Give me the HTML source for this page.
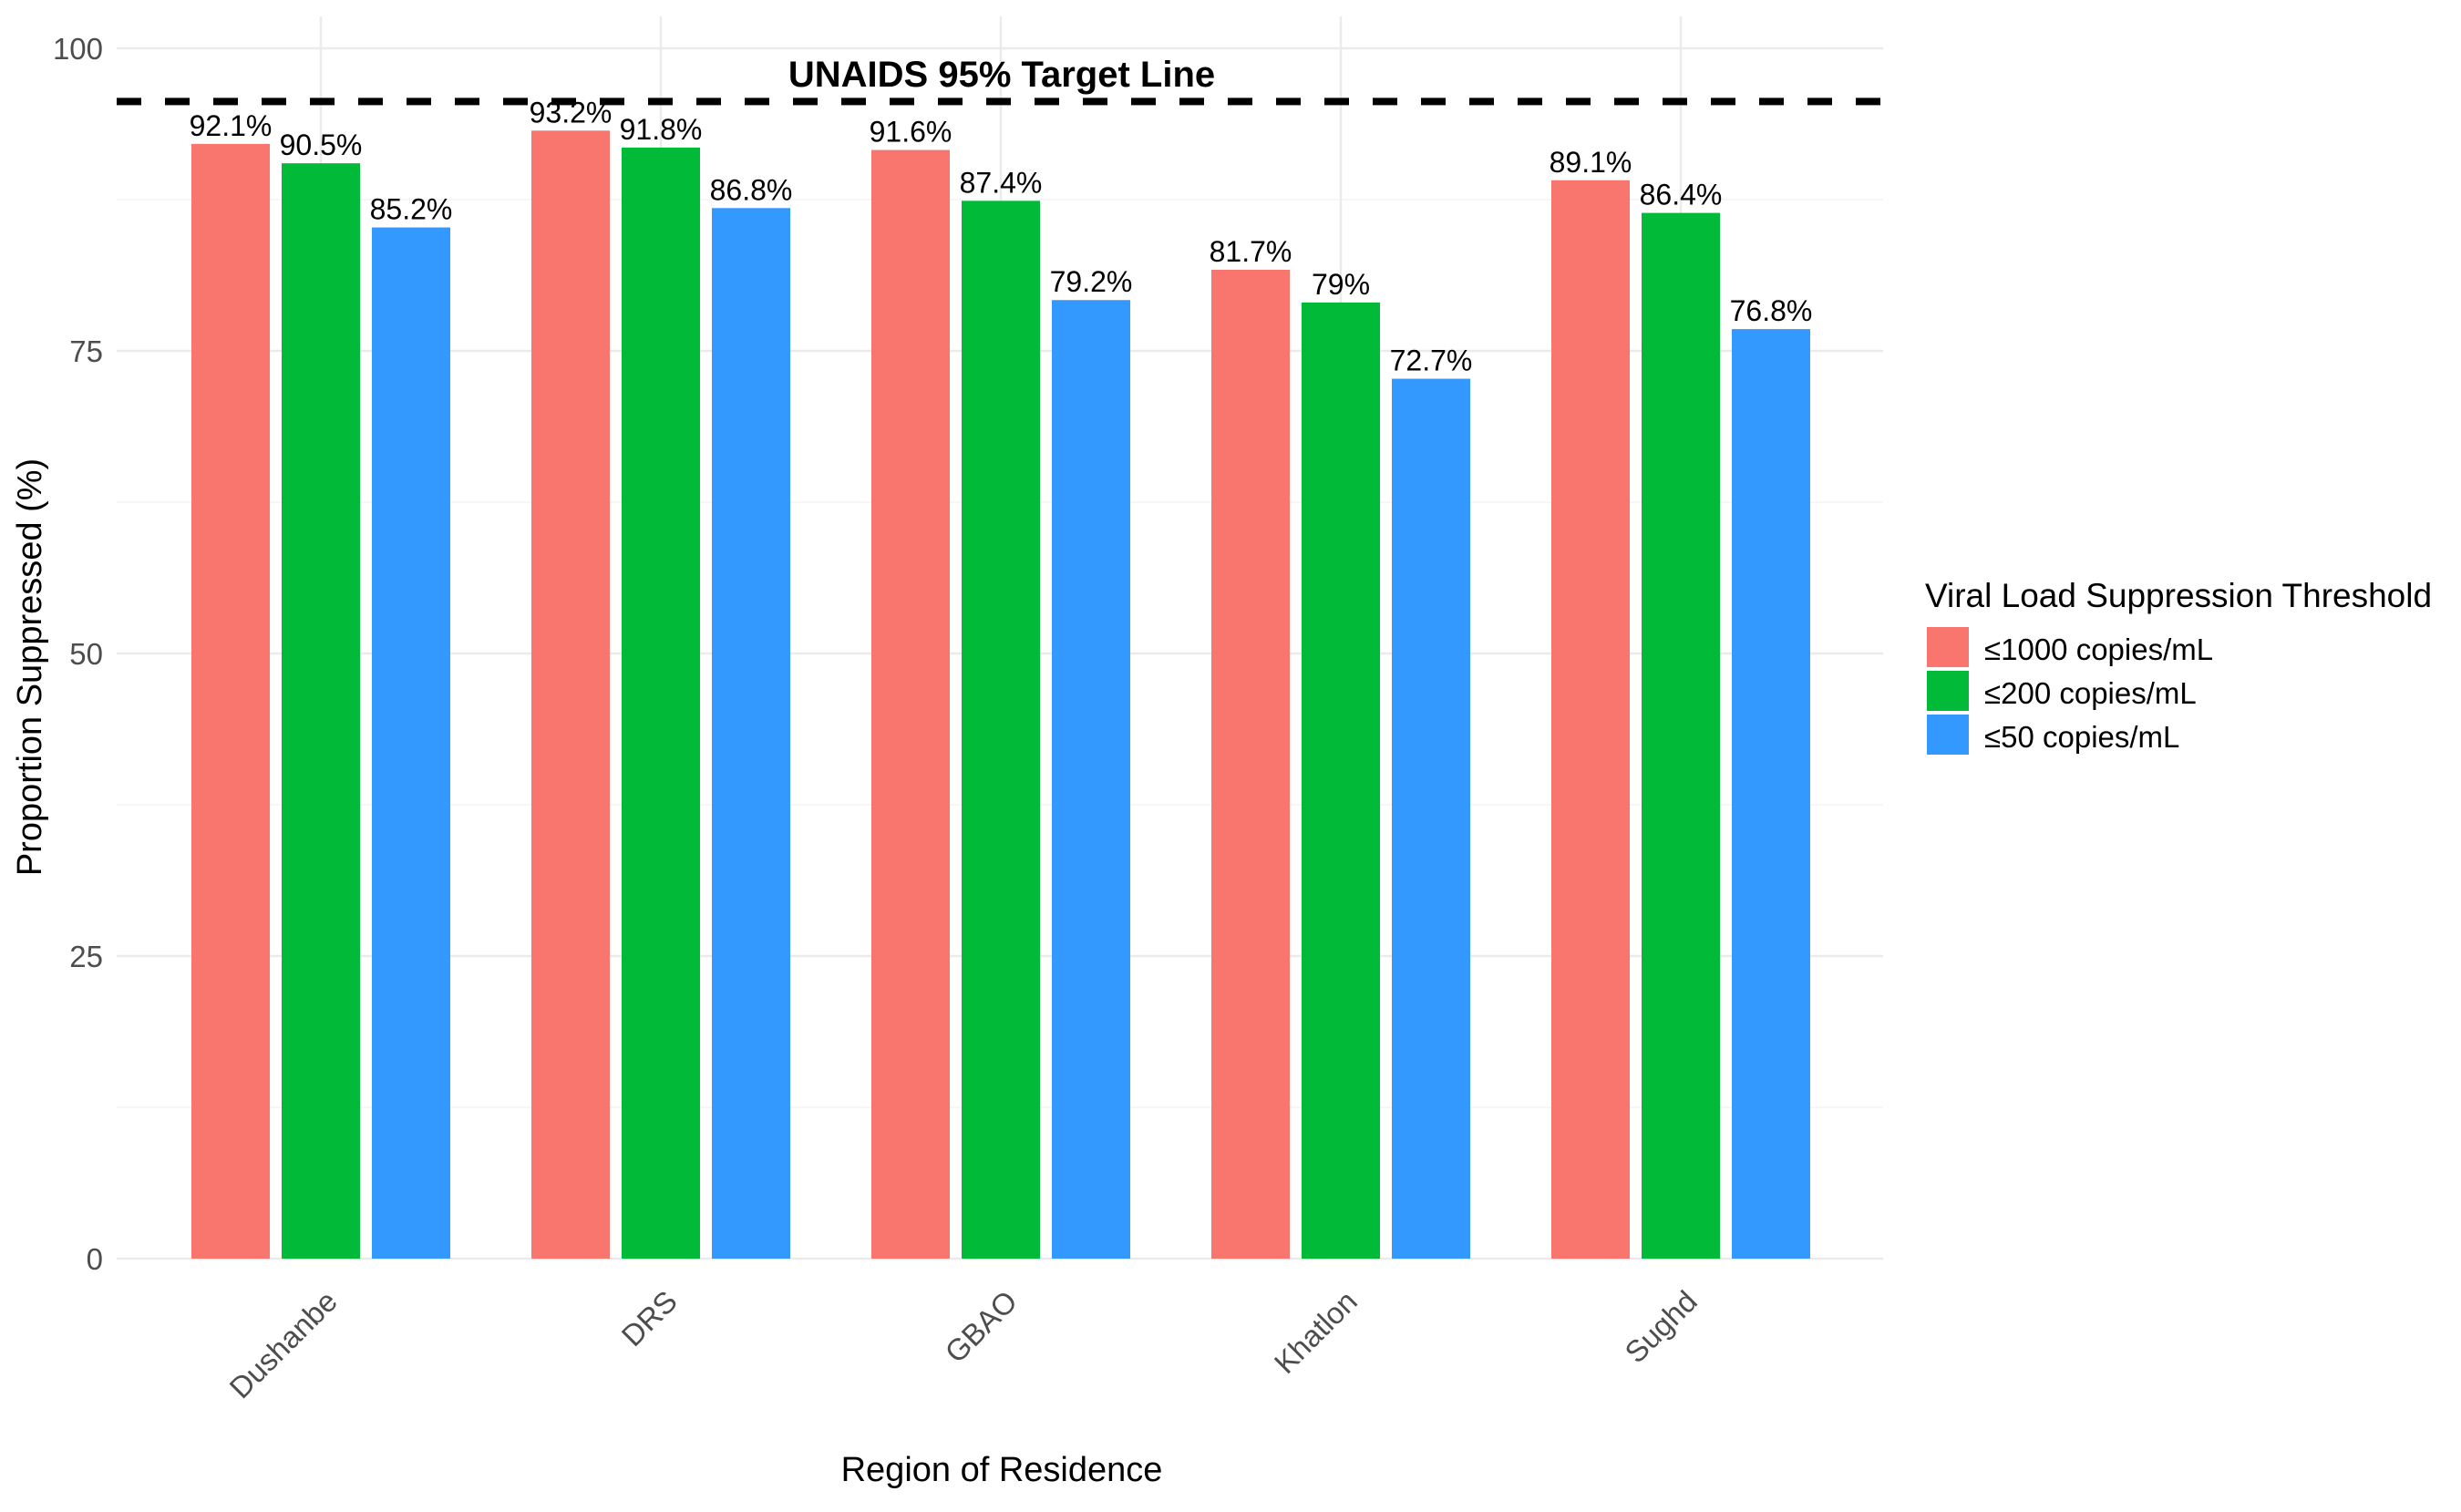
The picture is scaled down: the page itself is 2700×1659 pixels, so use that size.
<!DOCTYPE html>
<html><head><meta charset="utf-8"><style>
html,body{margin:0;padding:0;background:#fff;}
svg{display:block;font-family:"Liberation Sans",Arial,sans-serif;}
</style></head><body>
<svg id="chart" width="2700" height="1659" viewBox="0 0 2700 1659" xmlns="http://www.w3.org/2000/svg">
<g id="grid"></g>
<g id="bars"></g>
<g id="labels"></g>
<g id="target"></g>
<g id="yaxis"></g>
<g id="xaxis"></g>
<text x="1099" y="1625" font-size="38" text-anchor="middle" fill="#000">Region of Residence</text>
<text x="0" y="0" font-size="38" text-anchor="middle" fill="#000" transform="translate(45,732) rotate(-90)">Proportion Suppressed (%)</text>
<g>
<text x="2112" y="666" font-size="37" fill="#000">Viral Load Suppression Threshold</text>
<rect x="2114" y="688" width="46" height="44" fill="#F8766D"/>
<text x="2177" y="724" font-size="33" fill="#000">≤1000 copies/mL</text>
<rect x="2114" y="736" width="46" height="44" fill="#00BA38"/>
<text x="2177" y="772" font-size="33" fill="#000">≤200 copies/mL</text>
<rect x="2114" y="784" width="46" height="44" fill="#3399FF"/>
<text x="2177" y="820" font-size="33" fill="#000">≤50 copies/mL</text>
</g>
</svg>
<script>
const categories = ["Dushanbe","DRS","GBAO","Khatlon","Sughd"];
const s1000 = [92.1,93.2,91.6,81.7,89.1];
const s200 = [90.5,91.8,87.4,79.0,86.4];
const s50 = [85.2,86.8,79.2,72.7,76.8];
const labels1000 = ["92.1%","93.2%","91.6%","81.7%","89.1%"];
const labels200 = ["90.5%","91.8%","87.4%","79%","86.4%"];
const labels50 = ["85.2%","86.8%","79.2%","72.7%","76.8%"];
const yTicks = [0,25,50,75,100];
const targetValue = 95;

const NS="http://www.w3.org/2000/svg";
const left=128,right=2066,y0=1381,y100=53;
const y=v=>y0-(v/100)*(y0-y100);
const step=373,first=352;
const xc=i=>first+i*step;
function mk(tag,attrs,parent,txt){const e=document.createElementNS(NS,tag);for(const k in attrs)e.setAttribute(k,attrs[k]);if(txt!==undefined)e.textContent=txt;parent.appendChild(e);return e;}
const grid=document.getElementById('grid');
for(let v=0;v<=100;v+=12.5){
  const major=yTicks.includes(v);
  const l=mk('line',{x1:left,x2:right,y1:y(v),y2:y(v),stroke:major?'#ebebeb':'#f3f3f3','stroke-width':major?2.5:1.5},grid);
  
  
}
categories.forEach((c,i)=>{
  const l=mk('line',{x1:xc(i),x2:xc(i),y1:y100-35,y2:y0,stroke:'#ebebeb','stroke-width':2.5},grid);
  
  
});
const series=[[s1000,labels1000,'#F8766D','1000'],[s200,labels200,'#00BA38','200'],[s50,labels50,'#3399FF','50']];
const bars=document.getElementById('bars'),lab=document.getElementById('labels');
const bw=86,off=99;
categories.forEach((c,i)=>{
  series.forEach((s,j)=>{
    const cx=xc(i)+(j-1)*off;
    const r=mk('rect',{x:cx-bw/2,y:y(s[0][i]),width:bw,height:y0-y(s[0][i]),fill:s[2]},bars);
    
    
    const t=mk('text',{x:cx,y:y(s[0][i])-9,'font-size':32,'text-anchor':'middle',fill:'#000'},lab,s[1][i]);
    
    
  });
});
const tg=document.getElementById('target');
const tl=mk('line',{x1:left,x2:right,y1:y(targetValue)-8,y2:y(targetValue)-8,stroke:'#000','stroke-width':8,'stroke-dasharray':'27 26'},tg);


const tt=mk('text',{x:1099,y:95,'font-size':40,'font-weight':'bold','text-anchor':'middle',fill:'#000'},tg,'UNAIDS 95% Target Line');


const ya=document.getElementById('yaxis');
yTicks.forEach(v=>{
  const t=mk('text',{x:113,y:y(v)+12,'font-size':33,'text-anchor':'end',fill:'#4d4d4d'},ya,String(v));
  
  
});
const xa=document.getElementById('xaxis');
categories.forEach((c,i)=>{
  const t=mk('text',{x:0,y:0,'font-size':33,'text-anchor':'end',fill:'#4d4d4d',transform:`translate(${xc(i)+20},${1430}) rotate(-45)`},xa,c);
  
  
});
</script>
</body></html>
